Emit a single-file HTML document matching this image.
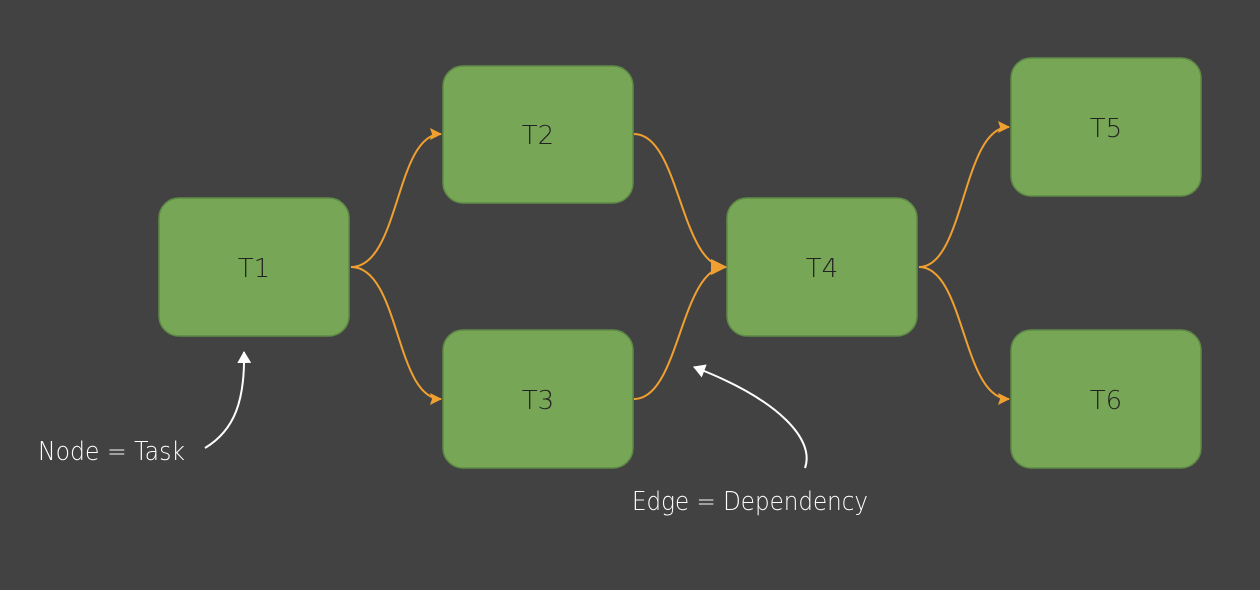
<!DOCTYPE html>
<html><head><style>
html,body{margin:0;padding:0;background:#424242;}
svg{display:block}
text{font-family:"DejaVu Sans","Liberation Sans",sans-serif;}
</style></head><body>
<svg width="1260" height="590" viewBox="0 0 1260 590" xmlns="http://www.w3.org/2000/svg">
<defs>
<marker id="oa" markerWidth="12" markerHeight="12" refX="11" refY="6" orient="auto" markerUnits="userSpaceOnUse" viewBox="0 0 12 12">
<path d="M0,0 L12,6 L0,12 L2,6 Z" fill="#f0a030"/></marker>
<marker id="oa2" markerWidth="16" markerHeight="16" refX="15" refY="8" orient="auto" markerUnits="userSpaceOnUse" viewBox="0 0 16 16">
<path d="M0,0 L16,8 L0,16 Z" fill="#f0a030"/></marker>
<marker id="wa" markerWidth="12" markerHeight="14" refX="11" refY="7" orient="auto" markerUnits="userSpaceOnUse" viewBox="0 0 12 14">
<path d="M0,0 L12,7 L0,14 Z" fill="#fff"/></marker>
</defs>
<rect width="1260" height="590" fill="#424242"/>
<g fill="#77a657" stroke="#5f8a45" stroke-width="1.5">
<rect x="159" y="198" width="190" height="138" rx="20"/>
<rect x="443" y="66" width="190" height="137" rx="20"/>
<rect x="443" y="330" width="190" height="138" rx="20"/>
<rect x="727" y="198" width="190" height="138" rx="20"/>
<rect x="1011" y="58" width="190" height="138" rx="20"/>
<rect x="1011" y="330" width="190" height="138" rx="20"/>
</g>
<g font-size="26" fill="#222" text-anchor="middle" font-weight="300">
<text x="254" y="277">T1</text>
<text x="538" y="144">T2</text>
<text x="538" y="409">T3</text>
<text x="822" y="277">T4</text>
<text x="1106" y="137">T5</text>
<text x="1106" y="409">T6</text>
</g>
<g fill="none" stroke="#f0a030" stroke-width="2">
<path d="M351,267 C400,267 395,134 441,134" marker-end="url(#oa)"/>
<path d="M351,267 C400,267 395,399 441,399" marker-end="url(#oa)"/>
<path d="M634,134 C680,134 680,267 726,267" marker-end="url(#oa2)"/>
<path d="M634,399 C680,399 680,267 726,267" marker-end="url(#oa2)"/>
<path d="M919,267 C965,267 962,127 1009,127" marker-end="url(#oa)"/>
<path d="M919,267 C965,267 962,399 1009,399" marker-end="url(#oa)"/>
</g>
<g fill="none" stroke="#fff" stroke-width="2">
<path d="M205,448 C235,430 245,400 244,352" marker-end="url(#wa)"/>
<path d="M805,468 C815,440 780,400 694,367" marker-end="url(#wa)"/>
</g>
<g font-size="26" fill="#fff" font-weight="300">
<text x="38" y="460" textLength="147" lengthAdjust="spacingAndGlyphs">Node = Task</text>
<text x="632" y="510" textLength="236" lengthAdjust="spacingAndGlyphs">Edge = Dependency</text>
</g>
</svg>
</body></html>
